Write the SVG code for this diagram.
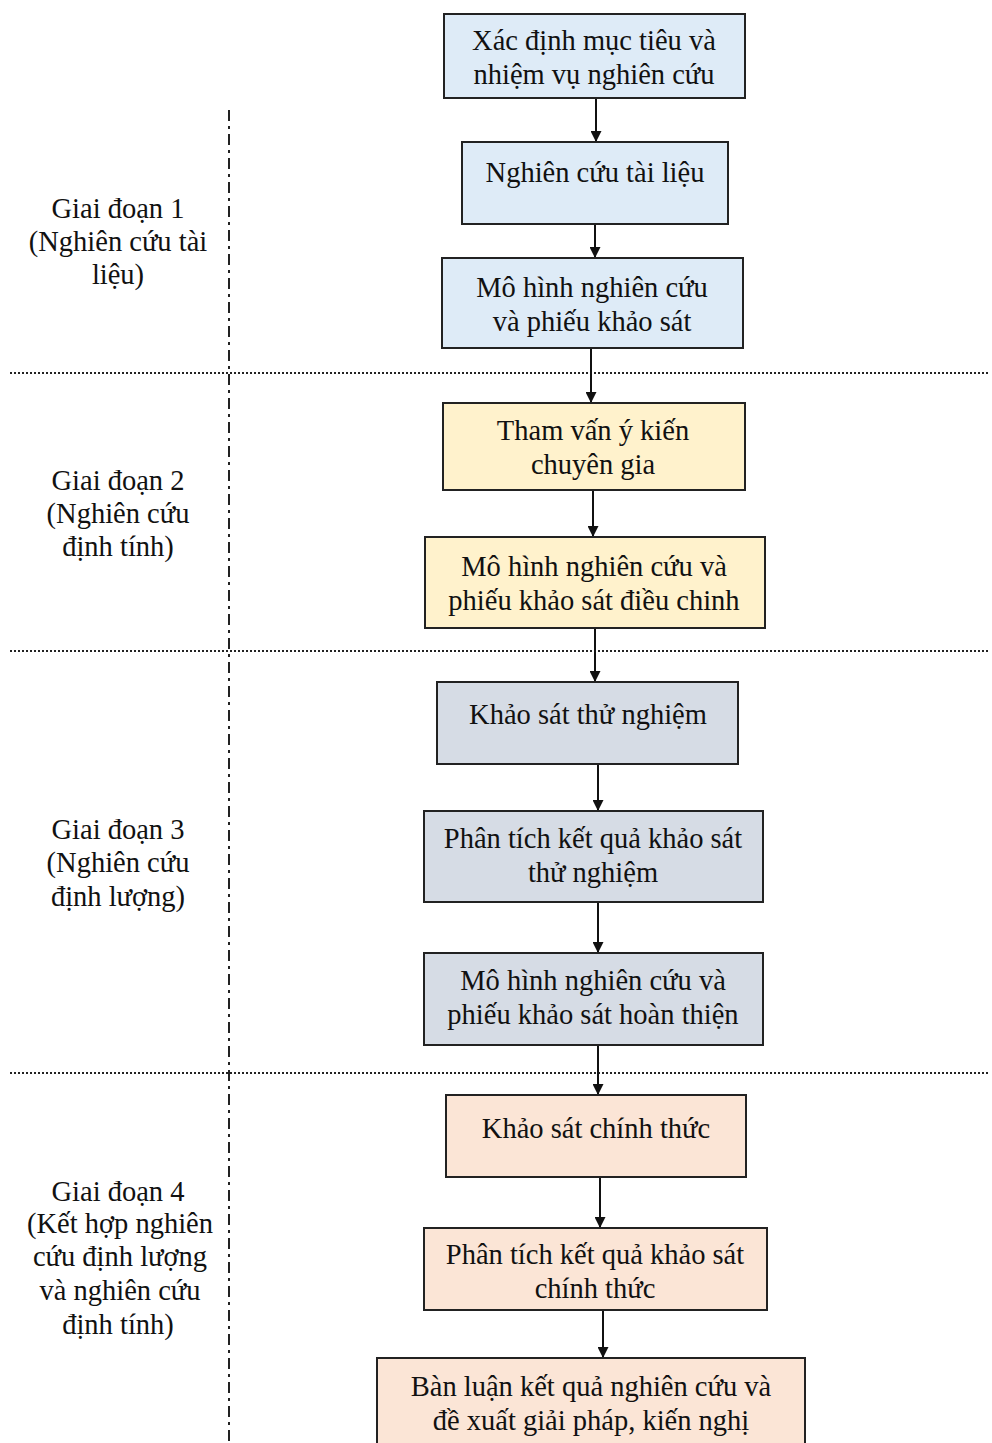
<svg xmlns="http://www.w3.org/2000/svg" width="992" height="1443" viewBox="0 0 992 1443">
<defs>
<marker id="ah" markerWidth="11" markerHeight="11" refX="10" refY="5.5" orient="auto" markerUnits="userSpaceOnUse">
<path d="M0,0 L11,5.5 L0,11 Z" fill="#111"/>
</marker>
<style>
.n rect{stroke:#222;stroke-width:2}
.b rect{fill:#DEEBF7}
.y rect{fill:#FFF2CC}
.g rect{fill:#D6DCE5}
.p rect{fill:#FBE5D6}
text{font-family:"Liberation Serif","Times New Roman",serif;font-size:28.5px;fill:#111;text-anchor:middle}
.c line{stroke:#111;stroke-width:2;marker-end:url(#ah)}
.sep{stroke:#222;stroke-width:2;stroke-dasharray:2 2}
.vl{stroke:#222;stroke-width:2;stroke-dasharray:11 5 3 5}
</style>
</defs>
<rect width="992" height="1443" fill="#fff"/>
<g id="guides">
<line class="vl" x1="229" y1="110" x2="229" y2="1443"/>
<line class="sep" x1="10" y1="373" x2="990" y2="373"/>
<line class="sep" x1="10" y1="651" x2="990" y2="651"/>
<line class="sep" x1="10" y1="1073" x2="990" y2="1073"/>
</g>
<g id="phase1"><text x="118" y="218">Giai đoạn 1</text><text x="118" y="251">(Nghiên cứu tài</text><text x="118" y="284">liệu)</text></g>
<g id="phase2"><text x="118" y="490">Giai đoạn 2</text><text x="118" y="523">(Nghiên cứu</text><text x="118" y="556">định tính)</text></g>
<g id="phase3"><text x="118" y="839">Giai đoạn 3</text><text x="118" y="872">(Nghiên cứu</text><text x="118" y="906">định lượng)</text></g>
<g id="phase4"><text x="118" y="1201">Giai đoạn 4</text><text x="120" y="1233">(Kết hợp nghiên</text><text x="120" y="1266">cứu định lượng</text><text x="120" y="1300">và nghiên cứu</text><text x="118" y="1334">định tính)</text></g>
<g class="c" id="connectors">
<line x1="596" y1="98" x2="596" y2="141"/>
<line x1="595" y1="224" x2="595" y2="257"/>
<line x1="591" y1="348" x2="591" y2="402"/>
<line x1="593" y1="490" x2="593" y2="536"/>
<line x1="595" y1="628" x2="595" y2="681"/>
<line x1="598" y1="764" x2="598" y2="810"/>
<line x1="598" y1="902" x2="598" y2="952"/>
<line x1="598" y1="1045" x2="598" y2="1094"/>
<line x1="600" y1="1177" x2="600" y2="1227"/>
<line x1="603" y1="1310" x2="603" y2="1357"/>
</g>
<g id="n1" class="n b"><rect x="444" y="14" width="301" height="84"/><text x="594" y="50">Xác định mục tiêu và</text><text x="594" y="84">nhiệm vụ nghiên cứu</text></g>
<g id="n2" class="n b"><rect x="462" y="142" width="266" height="82"/><text x="595" y="182">Nghiên cứu tài liệu</text></g>
<g id="n3" class="n b"><rect x="442" y="258" width="301" height="90"/><text x="592" y="297">Mô hình nghiên cứu</text><text x="592" y="331">và phiếu khảo sát</text></g>
<g id="n4" class="n y"><rect x="443" y="403" width="302" height="87"/><text x="593" y="440">Tham vấn ý kiến</text><text x="593" y="474">chuyên gia</text></g>
<g id="n5" class="n y"><rect x="425" y="537" width="340" height="91"/><text x="594" y="576">Mô hình nghiên cứu và</text><text x="594" y="610">phiếu khảo sát điều chinh</text></g>
<g id="n6" class="n g"><rect x="437" y="682" width="301" height="82"/><text x="588" y="724">Khảo sát thử nghiệm</text></g>
<g id="n7" class="n g"><rect x="424" y="811" width="339" height="91"/><text x="593" y="848">Phân tích kết quả khảo sát</text><text x="593" y="882">thử nghiệm</text></g>
<g id="n8" class="n g"><rect x="424" y="953" width="339" height="92"/><text x="593" y="990">Mô hình nghiên cứu và</text><text x="593" y="1024">phiếu khảo sát hoàn thiện</text></g>
<g id="n9" class="n p"><rect x="446" y="1095" width="300" height="82"/><text x="596" y="1138">Khảo sát chính thức</text></g>
<g id="n10" class="n p"><rect x="424" y="1228" width="343" height="82"/><text x="595" y="1264">Phân tích kết quả khảo sát</text><text x="595" y="1298">chính thức</text></g>
<g id="n11" class="n p"><rect x="377" y="1358" width="428" height="100"/><text x="591" y="1396">Bàn luận kết quả nghiên cứu và</text><text x="591" y="1430">đề xuất giải pháp, kiến nghị</text></g>
</svg>
